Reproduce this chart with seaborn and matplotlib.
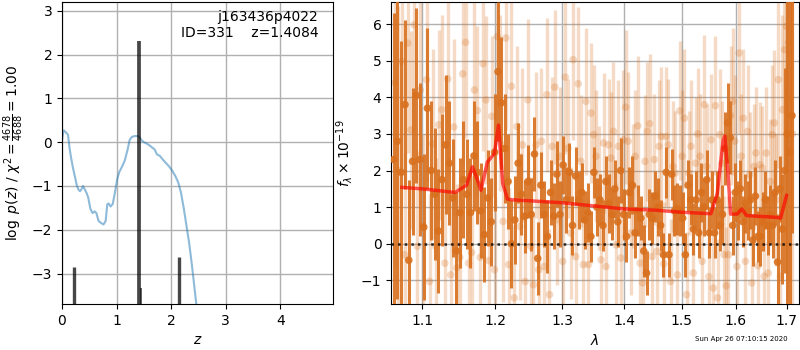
import numpy as np
import matplotlib
matplotlib.use('Agg')
import matplotlib.pyplot as plt
from matplotlib.ticker import NullLocator, NullFormatter
import seaborn as sns

# ---- left panel: log p(z) ----
pz_z = [0.00, 0.03, 0.06, 0.11, 0.14, 0.17, 0.20, 0.23, 0.27, 0.30, 0.33, 0.36, 0.385,
        0.41, 0.45, 0.48, 0.52, 0.56, 0.60, 0.63, 0.67, 0.72, 0.76, 0.80, 0.83, 0.855,
        0.89, 0.93, 0.97, 1.01, 1.05, 1.10, 1.15, 1.20, 1.24, 1.28, 1.33, 1.38, 1.42,
        1.46, 1.50, 1.55, 1.60, 1.65, 1.70, 1.74, 1.79, 1.85, 1.90, 1.96, 2.02, 2.08,
        2.13, 2.18, 2.23, 2.28, 2.33, 2.38, 2.43, 2.47]
pz_logp = [0.05, 0.27, 0.24, 0.17, -0.15, -0.38, -0.58, -0.75, -0.98, -1.08, -1.12, -1.07,
           -1.00, -1.06, -1.16, -1.26, -1.52, -1.62, -1.58, -1.62, -1.80, -1.85, -1.88,
           -1.80, -1.42, -1.40, -1.47, -1.41, -1.15, -0.85, -0.68, -0.56, -0.42, -0.18,
           0.05, 0.12, 0.14, 0.14, 0.12, 0.04, 0.00, -0.03, -0.07, -0.12, -0.17, -0.28,
           -0.31, -0.40, -0.47, -0.55, -0.65, -0.78, -0.92, -1.15, -1.50, -1.90, -2.30,
           -2.80, -3.35, -3.80]

# fine-grid peaks
spike_z = [0.215, 1.405, 1.44, 2.145]
spike_logp = [-2.85, 2.30, -3.32, -2.62]
spike_lw = [2.4, 2.7, 1.2, 2.4]

# ---- right panel: spectrum ----
# dark series
flux_dark = [2.3, 2.8, 1.95, 3.8, -0.45, 2.25, 4.05, 2.3, 0.45, 3.7, 2.0, 1.35, 0.35, 1.75,
             2.7, 2.2, 1.25, -0.2, 0.85, 1.75, 1.35, 0.85, 2.4, 1.95, 0.9, 0.25, 1.25, 0.6,
             2.5, 4.7, 3.85, 2.6, 1.7, 0.0, 0.65, 2.2, 1.35, 0.75, 1.7, 0.8, 2.45, -0.4,
             1.6, 0.8, 0.2, 1.4, 0.75, 1.9, 0.8, 2.15, 1.2, 1.95, 0.5, 1.85, 1.2, 1.4, 0.65,
             0.85,
             0.2, 1.95, 1.0, 1.2, 0.5, 1.7, 1.1, 0.8, 1.5, 0.6, 2.0, 0.8, 0.2, 1.4, 1.6, 0.3,
             0.9, 0.7, -0.2, -0.8, 0.8, 0.7, 1.3, 1.0, 0.5, -0.3, 1.95, -0.3, 1.9, 0.9, 0.95,
             0.9, 0.7, -0.3, 1.6, 1.2, 0.4,
             1.2, 0.3, 1.4, 1.0, 1.75, 0.3, 1.2, 0.3, 1.2, 0.5, 0.8, 2.6, 3.3, 2.9, 0.5, 1.4,
             0.9, 1.5, 0.6, 1.1, 0.9, 1.2, 0.1, 1.3, 0.2, 0.2, 0.6, 1.2, 0.5, 0.8, 0.5, 1.4,
             -0.5, 1.5, 0.4, 2.0, 3.0, 2.5, 3.5]
err_dark = [4.0, 4.3, 3.6, 2.3, 2.2, 2.0, 2.4, 2.1, 2.0, 2.2, 1.9, 1.8, 1.7, 1.8, 1.9, 1.7,
            1.6, 1.6, 1.5, 1.6, 1.5, 1.5, 1.5, 1.4, 1.3, 1.3, 1.3, 1.2,
            1.6, 1.9, 1.8, 1.5, 1.3, 1.2, 1.2, 1.1, 1.1, 1.0, 1.0, 1.0, 1.0, 1.0, 0.9, 0.9,
            1.0, 0.9, 0.9, 0.9, 0.9, 0.8, 0.9, 0.8, 0.8, 0.8, 0.8, 0.8, 0.8, 0.8,
            0.7, 0.7, 0.8, 0.7, 0.7, 0.7, 0.8, 0.7, 0.8, 0.7, 0.9, 0.7, 0.7, 0.7, 0.8, 0.7,
            0.7, 0.6, 0.7, 0.6, 0.7, 0.7, 0.7, 0.8, 0.7, 0.6, 0.7, 0.6, 0.7, 0.7, 0.7, 0.7,
            0.7, 0.6, 0.7, 0.7, 0.7,
            0.8, 0.7, 0.8, 0.8, 0.8, 0.7, 0.8, 0.7, 0.8, 0.7, 0.8, 1.0, 1.1, 1.0, 0.8, 0.8,
            0.8, 0.8, 0.7, 0.8, 0.8, 0.8, 0.7, 0.8, 0.7, 0.8, 0.8, 0.8, 0.8, 0.8, 0.9, 0.9,
            1.3, 0.9, 1.5, 2.8, 5.0, 4.5, 3.2]

# light series
flux_light = [4.4, 2.0, 4.98, -0.3, 5.48, 3.11, 5.98, -0.07, 4.2, 0.49, 4.48, -1.03, 2.73,
              -0.07, 3.25, 3.66, -0.53, 4.5, -0.85, 3.19, -0.66, -0.37, 4.64, 5.5, -0.53,
              -0.24, 4.2, 3.64, -0.37, 4.92, 3.93, -0.46, 3.48, -0.71,
              5.66, 3.84, 0.61, 5.62, -0.57, 4.3, -1.48, 3.2, 0.47, 2.7, -1.03, 3.93, -0.07,
              -1.12, 2.7, -0.71, 2.8, -0.62, 4.07, -1.39, 2.66, 4.28, 0.66, 2.39, -0.48,
              4.55, 2.61, 0.29, 5.03, -0.35, 4.37, 2.25, -0.57, 3.89, -0.57, 3.57,
              2.98, 2.39, 1.52, -0.44, 2.75, -0.62, 2.7, 2.34, 3.07, -0.03, 2.66, -0.39,
              2.84, 3.73, 2.8, 0.29, 1.57, 2.39, 3.22, -0.53, -1.07, 2.25, 3.07, 3.28, -0.35,
              2.3, -0.21, 2.66, 2.93, -0.55, 2.93, 2.7, -1.03, 2.11, 1.93, -0.85, 3.63, 2.39,
              3.43, -1.39, 1.93, 2.66, -0.8, 2.2,
              3.0, 2.39, -0.48, 3.8, 2.11, -0.9, 2.84, -1.21, 3.77, -1.48, 2.98, 2.2, -0.3,
              -1.15, -0.3, 3.5, 3.89, 2.8, -0.62, 5.21, 2.39, 3.43, -0.48, 3.07, 1.89, -1.07,
              2.11, 2.48, -0.6, 2.16, 2.07, -0.89, 2.48, -0.8, 1.7, 2.98, 3.3, 1.2, 4.48,
              -0.89, 3.66, 5.3, 5.94, 5.5, 4.0, 3.0]
err_light = [5.0, 4.5, 3.0, 2.8, 3.0, 2.7, 3.0, 2.6, 2.8, 2.5, 2.8, 2.4, 2.6, 2.4, 2.6, 2.6,
             2.3, 2.6, 2.3, 2.4, 2.3, 2.2, 2.5, 2.6, 2.2, 2.1, 2.4, 2.3, 2.1, 2.4, 2.3, 2.0,
             2.2, 2.0,
             2.6, 2.4, 2.2, 2.5, 2.1, 2.3, 2.0, 2.2, 2.0, 2.1, 1.9, 2.2, 1.9, 1.9, 2.0, 1.9,
             2.0, 1.8, 2.1, 1.8, 1.9, 2.1, 1.8, 1.9, 1.8, 2.1, 1.9, 1.8, 2.2, 1.8, 2.1, 1.8,
             1.8, 2.0, 1.8, 1.9,
             1.9, 1.8, 1.7, 1.7, 1.9, 1.7, 1.8, 1.8, 1.9, 1.7, 1.8, 1.7, 1.9, 2.1, 1.9, 1.7,
             1.7, 1.8, 1.9, 1.7, 1.7, 1.8, 1.9, 1.9, 1.7, 1.8, 1.7, 1.8, 1.9, 1.7, 1.9, 1.8,
             1.7, 1.8, 1.7, 1.7, 1.9, 1.8, 1.9, 1.7, 1.7, 1.8, 1.7, 1.8,
             1.8, 1.7, 1.6, 1.9, 1.7, 1.6, 1.8, 1.6, 1.9, 1.6, 1.8, 1.7, 1.6, 1.6, 1.6, 1.9,
             2.0, 1.8, 1.6, 2.2, 1.7, 1.9, 1.6, 1.8, 1.7, 1.6, 1.7, 1.8, 1.6, 1.7, 1.7, 1.6,
             1.8, 1.6, 1.7, 1.9, 2.0, 1.8, 2.4, 2.0, 2.6, 3.2, 4.0, 4.5, 5.0, 5.5]

# best-fit model
model_wave = [1.0736, 1.10, 1.144, 1.151, 1.160, 1.168, 1.174, 1.180, 1.189, 1.199, 1.205,
              1.211, 1.218, 1.225, 1.30, 1.40, 1.45, 1.50, 1.553, 1.565, 1.576, 1.579,
              1.585, 1.590, 1.6025, 1.6115, 1.6205, 1.68, 1.688, 1.70]
model_flux = [1.54, 1.50, 1.40, 1.49, 1.60, 2.10, 1.80, 1.46, 2.23, 2.46, 3.24, 1.65, 1.22,
              1.20, 1.12, 0.95, 0.92, 0.86, 0.82, 1.38, 2.84, 2.94, 1.94, 0.81, 0.81, 0.95,
              0.77, 0.72, 0.70, 1.32]

wave_dark = np.linspace(1.063, 1.711, len(flux_dark))
wave_light = np.linspace(1.065, 1.712, len(flux_light))

dark_color = '#d8701e'

fig = plt.figure(figsize=(8, 3.5), dpi=100)
ax1 = fig.add_axes([0.0775, 0.131, 0.339, 0.863])
ax2 = fig.add_axes([0.489, 0.131, 0.5095, 0.863])

# left
sns.lineplot(x=pz_z, y=pz_logp, ax=ax1, color='#1f77b4', alpha=0.5, lw=1.5,
             estimator=None, sort=False)
for z, lp, lw in zip(spike_z, spike_logp, spike_lw):
    ax1.vlines(z, -5, lp, color='k', alpha=0.72, lw=lw)
ax1.set_xlim(0, 4.97)
ax1.set_ylim(-3.7, 3.2)
ax1.set_xticks([0, 1, 2, 3, 4])
ax1.grid(color='#b0b0b0', lw=1)
ax1.set_axisbelow(True)
ax1.set_xlabel('$z$')
ax1.set_ylabel(r'$\log\ p(z)$ / $\chi^2=\frac{4678}{4688}=1.00$')
ax1.text(0.945, 0.975, 'j163436p4022\nID=331    z=1.4084', transform=ax1.transAxes,
         ha='right', va='top', multialignment='right', fontsize=10)

# right
ax2.errorbar(wave_light, flux_light, yerr=err_light, fmt='none', ecolor=dark_color,
             elinewidth=2.4, alpha=0.25, zorder=2)
sns.scatterplot(x=wave_light, y=flux_light, ax=ax2, color=dark_color, alpha=0.25, s=30,
                edgecolor='none', zorder=2)
ax2.errorbar(wave_dark, flux_dark, yerr=err_dark, fmt='none', ecolor=dark_color,
             elinewidth=2.2, alpha=0.9, zorder=3)
sns.scatterplot(x=wave_dark, y=flux_dark, ax=ax2, color=dark_color, alpha=0.9, s=30,
                edgecolor='none', zorder=3)
sns.lineplot(x=model_wave, y=model_flux, ax=ax2, color='r', alpha=0.65, lw=2.5,
             estimator=None, sort=False, zorder=4)
ax2.axhline(0, color='k', ls=':', lw=1.8, alpha=0.8, zorder=5)

ax2.set_xscale('log')
ax2.set_xlim(1.06, 1.725)
ax2.set_ylim(-1.65, 6.6)
xt = [1.1, 1.2, 1.3, 1.4, 1.5, 1.6, 1.7]
ax2.set_xticks(xt)
ax2.set_xticklabels(['%.1f' % t for t in xt])
ax2.xaxis.set_minor_locator(NullLocator())
ax2.xaxis.set_minor_formatter(NullFormatter())
ax2.grid(color='#b0b0b0', lw=1)
ax2.set_axisbelow(True)
ax2.set_xlabel(r'$\lambda$')
ax2.set_ylabel(r'$f_\lambda\times10^{-19}$')

fig.text(0.985, 0.022, 'Sun Apr 26 07:10:15 2020', ha='right', va='bottom', fontsize=5)

fig.savefig('out.png', dpi=100)
